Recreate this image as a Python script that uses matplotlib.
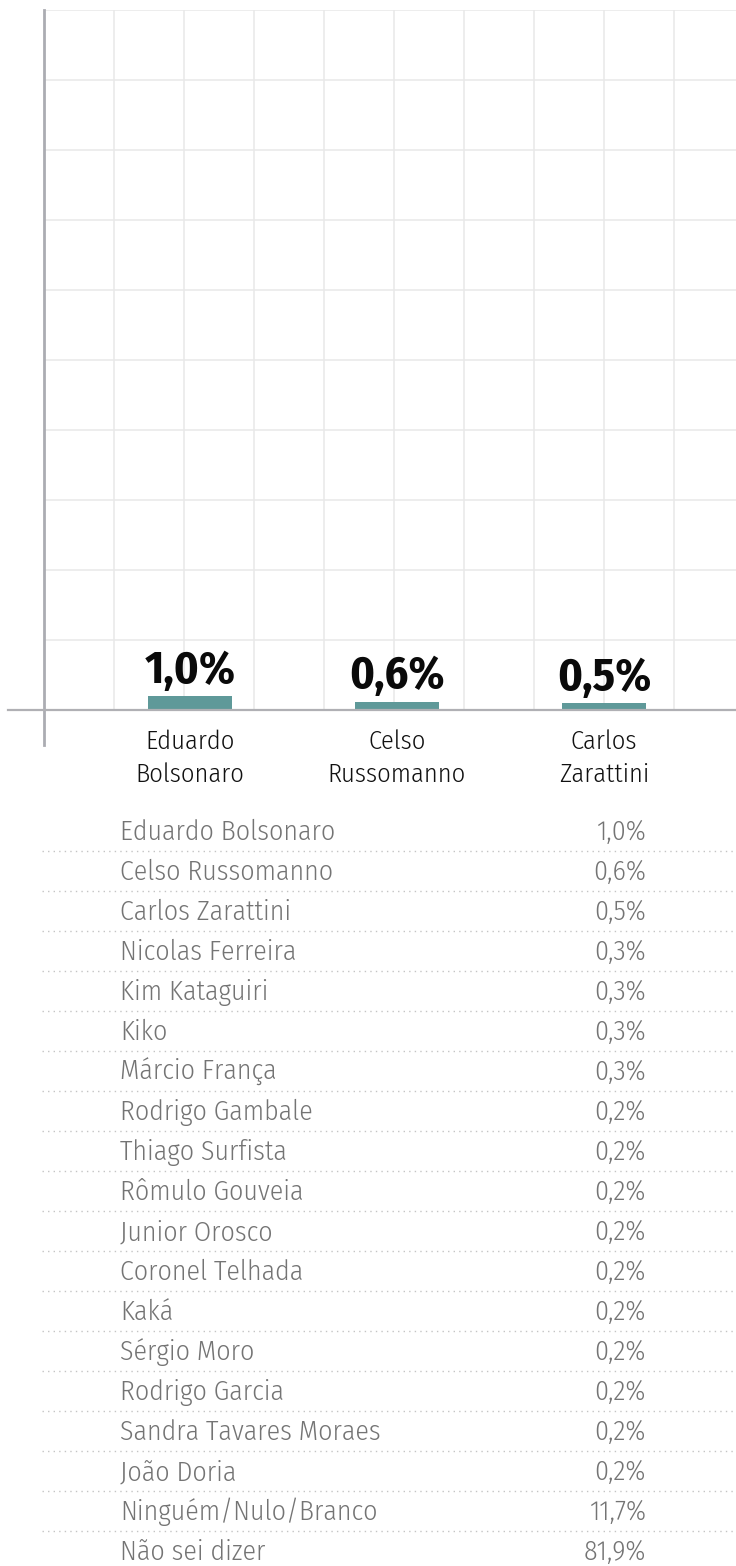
import numpy as np
import matplotlib
matplotlib.use("Agg")
import matplotlib.pyplot as plt

plt.rcParams['font.family'] = ['Fira Sans Condensed', 'IBM Plex Sans Condensed',
                               'Liberation Sans', 'DejaVu Sans']

# dados do grafico
bar_names = ["Eduardo\nBolsonaro", "Celso\nRussomanno", "Carlos\nZarattini"]
bar_values = [1.0, 0.6, 0.5]

# dados da tabela
table_names = ["Eduardo Bolsonaro", "Celso Russomanno", "Carlos Zarattini",
               "Nicolas Ferreira", "Kim Kataguiri", "Kiko", "Márcio França",
               "Rodrigo Gambale", "Thiago Surfista", "Rômulo Gouveia",
               "Junior Orosco", "Coronel Telhada", "Kaká", "Sérgio Moro",
               "Rodrigo Garcia", "Sandra Tavares Moraes", "João Doria",
               "Ninguém/Nulo/Branco", "Não sei dizer"]
table_values = [1.0, 0.6, 0.5, 0.3, 0.3, 0.3, 0.3, 0.2, 0.2, 0.2, 0.2,
                0.2, 0.2, 0.2, 0.2, 0.2, 0.2, 11.7, 81.9]

def fmt(v):
    return ("%.1f%%" % v).replace(".", ",")

W, H = 736, 1566
fig = plt.figure(figsize=(W / 100, H / 100), dpi=100)

# --- grafico de barras ---
ax = fig.add_axes([44 / W, 856 / H, 692 / W, 700 / H])
step = 207.0  # px entre barras
x = np.arange(len(bar_values))
x0 = -146 / step
x1 = (692 - 146) / step
ax.set_xlim(x0, x1)
ax.set_ylim(0, 50)

for gx in np.arange(x0, x1, 70 / step)[1:]:
    ax.axvline(gx, color="#e8e8e8", lw=1.1, zorder=0)
for gy in np.arange(5, 51, 5):
    ax.axhline(gy, color="#e8e8e8", lw=1.1, zorder=0)

ax.bar(x, bar_values, width=84 / step, color="#5f9999", zorder=2)
for xi, v in zip(x, bar_values):
    ax.annotate(fmt(v), xy=(xi, v), xytext=(0, 9.5), textcoords="offset points",
                ha="center", va="baseline", fontsize=33, fontweight="bold",
                color="#0a0a0a")

ax.set_xticks(x)
ax.set_xticklabels(bar_names, fontsize=19, color="#111111", linespacing=1.38,
                   fontweight=300)
ax.tick_params(axis="x", length=0, pad=14)
ax.set_yticks([])
for s in ax.spines.values():
    s.set_visible(False)

# eixos que passam do cruzamento
ax.plot([0, 0], [-35 / 700, 1], transform=ax.transAxes, color="#abacb2",
        lw=2.0, clip_on=False, zorder=3)
ax.plot([-36 / 692, 1], [0, 0], transform=ax.transAxes, color="#b0b0b4",
        lw=1.6, clip_on=False, zorder=3)

# --- tabela ---
# 40 px por linha, baseline da linha 0 em y=840 px (a partir do topo)
tab_h = 818
top_px = H - tab_h
base = 840
tx = fig.add_axes([42 / W, 0, 694 / W, tab_h / H])
rows = np.arange(len(table_names))
y_top = -(base - top_px) / 40
tx.set_ylim(y_top + tab_h / 40, y_top)
tx.set_xlim(0, 1)
tx.axis("off")
for r, name, v in zip(rows, table_names, table_values):
    tx.text((120 - 42) / 694, r, name, ha="left", va="baseline",
            fontsize=20, color="#747474", fontweight=300)
    tx.text((646 - 42) / 694, r, fmt(v), ha="right", va="baseline",
            fontsize=20, color="#747474", fontweight=300)
    tx.plot([0, 1], [r + 11 / 40, r + 11 / 40], color="#c4c4c4", lw=1.0,
            ls=(0, (1, 3)), clip_on=False)

fig.savefig("out.png", dpi=100)
